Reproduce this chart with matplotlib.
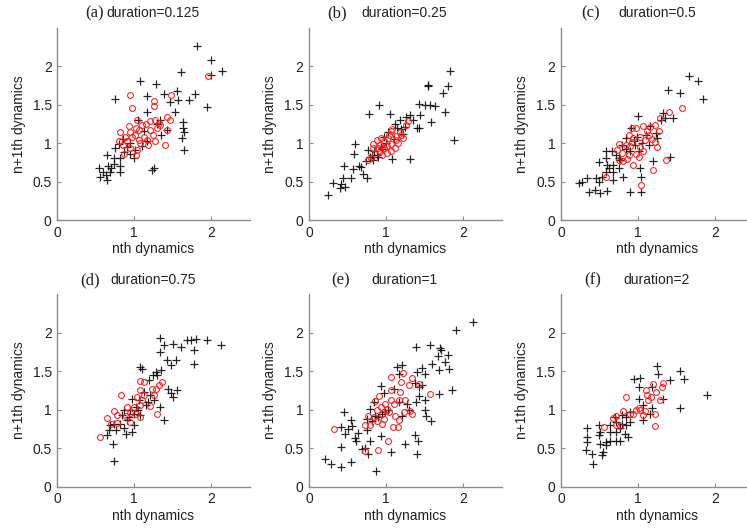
import matplotlib

matplotlib.use("Agg")
import matplotlib.pyplot as plt

# ---- data (nth vs n+1th dynamics) ----
a_plus_x = [1.82, 2.00, 2.14, 1.99, 1.61, 1.07, 1.28, 0.75, 1.16, 1.39, 1.55, 1.46, 1.57, 1.71, 1.79, 1.94,
            1.16, 1.53, 1.34, 1.63, 1.63, 1.65, 1.62, 1.65, 1.35, 1.43, 1.16, 1.10, 0.87, 0.80, 0.85, 0.65,
            0.73, 0.66, 0.54, 0.55, 0.65, 0.69, 0.82, 0.82, 0.74, 0.82, 1.23, 1.26, 0.95, 1.01, 0.63, 0.75,
            1.05, 1.30, 1.00, 0.70, 0.60, 0.90, 0.95, 1.12]
a_plus_y = [2.26, 2.08, 1.94, 1.88, 1.92, 1.81, 1.76, 1.57, 1.61, 1.64, 1.68, 1.53, 1.56, 1.56, 1.64, 1.47,
            1.40, 1.40, 1.30, 1.27, 1.19, 1.14, 1.06, 0.91, 1.11, 1.17, 1.02, 0.96, 0.88, 0.99, 1.05, 0.84,
            0.73, 0.70, 0.67, 0.56, 0.52, 0.63, 0.70, 0.63, 0.80, 0.80, 0.65, 0.68, 0.86, 0.91, 0.58, 0.93,
            1.30, 1.25, 0.80, 0.68, 0.62, 0.95, 1.00, 1.15]
a_circ_x = [1.96, 0.94, 0.97, 1.25, 1.48, 1.25, 1.27, 1.42, 1.46, 1.03, 1.15, 0.81, 1.02, 1.06, 1.20, 1.29,
            1.34, 1.43, 0.97, 1.01, 1.12, 1.24, 1.17, 1.27, 1.40, 0.90, 0.85, 0.94, 0.87, 1.02, 1.06, 1.10,
            0.95, 1.21, 1.32, 0.80, 0.93, 1.08, 1.18, 0.88, 1.03]
a_circ_y = [1.87, 1.63, 1.46, 1.55, 1.62, 1.48, 1.30, 1.34, 1.30, 1.30, 1.25, 1.14, 1.20, 1.17, 1.17, 1.20,
            1.23, 1.17, 1.08, 1.10, 1.08, 1.11, 1.04, 1.02, 0.98, 1.02, 0.97, 0.93, 0.86, 0.84, 1.04, 1.23,
            1.14, 1.29, 1.26, 1.02, 1.22, 1.00, 0.98, 1.08, 0.91]

b_plus_x = [1.83, 1.54, 1.81, 1.74, 0.91, 0.78, 1.05, 1.43, 1.50, 1.63, 1.76, 1.58, 1.31, 1.26, 1.18, 1.11,
            1.44, 1.40, 1.43, 1.88, 1.31, 1.08, 0.60, 0.59, 0.77, 0.74, 0.46, 0.57, 0.68, 0.70, 0.75, 0.55,
            0.44, 0.42, 0.31, 0.24, 0.40, 0.47, 0.88, 0.94, 0.98, 1.22, 1.14, 1.03, 0.83, 0.79, 1.24, 1.57,
            1.55, 0.85, 0.65, 0.82, 0.95, 1.00, 1.10, 0.90, 1.35, 1.20]
b_plus_y = [1.93, 1.75, 1.74, 1.65, 1.49, 1.38, 1.38, 1.51, 1.50, 1.48, 1.40, 1.27, 1.36, 1.34, 1.30, 1.25,
            1.36, 1.19, 1.19, 1.04, 0.79, 0.79, 0.99, 0.86, 0.91, 0.77, 0.70, 0.66, 0.69, 0.60, 0.55, 0.55,
            0.54, 0.47, 0.48, 0.32, 0.41, 0.43, 0.84, 0.95, 1.08, 1.12, 1.19, 1.14, 0.78, 0.82, 1.21, 1.50,
            1.74, 0.90, 0.70, 0.85, 0.92, 1.00, 1.05, 0.82, 1.30, 1.18]
b_circ_x = [1.29, 1.26, 1.07, 1.18, 1.22, 1.13, 0.83, 0.88, 0.92, 0.97, 1.03, 1.06, 0.98, 0.92, 0.86, 0.81,
            0.77, 1.01, 0.95, 1.11, 1.07, 1.16, 0.83, 0.89, 1.04, 0.94, 1.13, 1.20, 1.01, 1.08]
b_circ_y = [1.28, 1.23, 1.16, 1.14, 1.07, 1.09, 0.99, 1.04, 0.97, 1.02, 1.06, 0.99, 0.93, 0.89, 0.86, 0.81,
            0.78, 0.87, 0.84, 0.93, 0.89, 1.00, 0.93, 0.94, 1.10, 1.07, 1.04, 1.11, 0.96, 1.18]

c_plus_x = [1.66, 1.78, 1.39, 1.54, 1.84, 1.32, 1.46, 1.35, 1.00, 0.91, 1.16, 1.30, 0.99, 1.10, 1.23, 1.25,
            0.84, 0.79, 0.96, 0.90, 0.66, 0.58, 0.71, 0.77, 0.49, 0.60, 0.62, 0.75, 0.68, 0.58, 0.53, 0.80,
            0.46, 0.68, 0.27, 0.23, 0.34, 0.50, 0.36, 0.44, 0.51, 0.60, 0.90, 1.04, 1.04, 1.03, 1.19, 1.42,
            0.58, 0.68, 1.01, 1.14, 0.85, 0.95, 1.05, 0.75]
c_plus_y = [1.87, 1.81, 1.69, 1.65, 1.57, 1.39, 1.32, 1.32, 1.35, 1.20, 1.22, 1.30, 1.08, 1.10, 1.13, 1.07,
            1.06, 0.97, 0.97, 0.89, 0.89, 0.90, 0.84, 0.78, 0.75, 0.71, 0.67, 0.67, 0.62, 0.62, 0.56, 0.56,
            0.54, 0.52, 0.50, 0.48, 0.54, 0.50, 0.37, 0.39, 0.35, 0.38, 0.37, 0.37, 0.56, 0.67, 0.76, 0.82,
            0.80, 0.71, 0.90, 0.97, 0.92, 1.02, 1.00, 0.80]
c_circ_x = [1.57, 1.40, 1.29, 0.92, 0.97, 1.07, 1.16, 1.22, 1.12, 0.88, 0.94, 1.03, 1.09, 1.18, 1.25, 1.22,
            0.75, 0.84, 0.90, 1.03, 0.73, 0.79, 0.88, 0.97, 1.07, 0.75, 0.81, 0.86, 0.94, 1.36, 1.19, 1.04,
            0.58, 1.01, 1.14, 1.27, 0.92]
c_circ_y = [1.45, 1.40, 1.32, 1.20, 1.20, 1.22, 1.21, 1.24, 1.15, 1.10, 1.06, 1.08, 1.04, 1.05, 0.95, 1.01,
            0.99, 0.98, 0.96, 0.95, 0.91, 0.87, 0.85, 0.86, 0.89, 0.78, 0.76, 0.79, 0.71, 0.78, 0.65, 0.45,
            0.56, 0.82, 1.10, 1.15, 1.01]

d_plus_x = [1.34, 1.50, 1.61, 1.69, 1.74, 1.80, 1.95, 2.13, 1.77, 1.78, 1.39, 1.34, 1.43, 1.54, 1.48, 1.08,
            1.10, 1.35, 1.28, 1.24, 1.30, 1.19, 1.44, 1.48, 1.55, 1.50, 1.13, 1.21, 1.26, 1.15, 0.97, 1.02,
            0.95, 0.86, 0.84, 0.90, 0.82, 0.73, 0.69, 0.67, 0.76, 0.86, 0.99, 0.89, 0.97, 1.39, 0.64, 0.72,
            0.73, 1.08, 1.06, 1.34, 0.93, 1.00, 1.05, 1.18]
d_plus_y = [1.93, 1.85, 1.81, 1.90, 1.90, 1.92, 1.90, 1.84, 1.77, 1.60, 1.84, 1.75, 1.65, 1.64, 1.58, 1.56,
            1.53, 1.52, 1.49, 1.45, 1.45, 1.38, 1.27, 1.22, 1.25, 1.17, 1.23, 1.19, 1.12, 1.06, 1.14, 1.04,
            0.99, 0.99, 0.93, 0.86, 0.82, 0.82, 0.80, 0.73, 0.73, 0.76, 0.80, 0.69, 0.71, 0.86, 0.67, 0.56,
            0.33, 0.93, 1.12, 1.04, 0.91, 0.95, 1.00, 1.10]
d_circ_x = [1.36, 1.32, 1.28, 1.08, 1.13, 1.08, 1.23, 1.25, 0.83, 1.04, 1.13, 1.20, 1.30, 0.99, 0.95, 1.02,
            1.08, 1.07, 0.74, 0.78, 0.89, 0.64, 0.95, 0.70, 0.77, 0.55, 0.91, 1.10]
d_circ_y = [1.36, 1.32, 1.27, 1.37, 1.36, 1.25, 1.27, 1.19, 1.19, 1.16, 1.19, 1.05, 0.94, 1.04, 0.96, 0.95,
            0.91, 1.06, 0.98, 0.93, 0.92, 0.89, 0.84, 0.81, 0.83, 0.64, 1.03, 1.12]

e_plus_x = [2.13, 1.91, 1.39, 1.57, 1.70, 1.71, 1.80, 1.68, 1.76, 1.82, 1.69, 1.60, 1.47, 1.51, 1.40, 1.21,
            1.14, 1.17, 1.38, 1.43, 1.47, 1.69, 1.86, 0.93, 1.10, 1.43, 1.51, 1.39, 1.51, 1.52, 1.17, 1.27,
            0.97, 0.84, 0.79, 0.86, 0.75, 0.99, 0.45, 0.55, 0.51, 0.42, 0.56, 0.64, 0.75, 0.47, 0.60, 0.42,
            0.61, 0.79, 0.93, 0.73, 0.69, 0.76, 1.06, 1.24, 1.38, 1.42, 1.40, 0.21, 0.28, 0.42, 0.55, 0.87,
            1.59, 1.21, 1.30, 0.90, 0.95, 1.02, 0.82]
e_plus_y = [2.14, 2.04, 1.81, 1.84, 1.80, 1.77, 1.71, 1.70, 1.62, 1.53, 1.51, 1.59, 1.54, 1.46, 1.49, 1.58,
            1.55, 1.46, 1.35, 1.29, 1.32, 1.21, 1.26, 1.31, 1.27, 1.18, 1.12, 1.10, 0.99, 0.92, 1.10, 1.08,
            1.22, 1.10, 1.01, 0.92, 0.88, 0.97, 0.97, 0.86, 0.75, 0.77, 0.79, 0.70, 0.73, 0.68, 0.63, 0.51,
            0.60, 0.60, 0.66, 0.50, 0.49, 0.43, 0.45, 0.56, 0.67, 0.60, 0.43, 0.36, 0.30, 0.25, 0.32, 0.21,
            0.85, 0.92, 0.99, 0.90, 0.95, 1.00, 0.85]
e_circ_x = [1.22, 1.34, 1.06, 1.43, 1.30, 1.07, 1.18, 1.57, 0.91, 1.25, 1.17, 0.86, 0.99, 1.10, 0.93, 1.01,
            0.88, 0.95, 1.04, 0.77, 0.84, 1.23, 1.31, 1.34, 1.17, 0.73, 0.79, 0.95, 1.09, 1.16, 0.33, 1.03,
            0.90, 0.73, 0.97, 1.12, 0.88, 1.06, 1.19]
e_circ_y = [1.48, 1.41, 1.42, 1.33, 1.32, 1.26, 1.23, 1.21, 1.18, 1.13, 1.13, 1.11, 1.08, 1.08, 1.03, 1.01,
            0.99, 0.95, 0.97, 0.92, 0.90, 0.97, 0.98, 0.95, 0.86, 0.80, 0.80, 0.82, 0.77, 0.77, 0.75, 0.60,
            0.48, 0.46, 0.88, 0.92, 0.85, 1.12, 1.36]

f_plus_x = [1.25, 1.26, 0.95, 1.02, 1.55, 1.60, 1.41, 1.01, 1.18, 1.89, 1.01, 1.33, 1.55, 1.07, 1.18, 1.16,
            1.07, 0.90, 0.85, 0.79, 0.70, 0.72, 0.79, 0.64, 0.90, 0.85, 0.34, 0.49, 0.51, 0.63, 0.77, 0.34,
            0.34, 0.49, 0.51, 0.59, 0.64, 0.72, 0.77, 0.83, 0.87, 0.33, 0.40, 0.55, 0.53, 0.42, 0.59, 0.72]
f_plus_y = [1.57, 1.46, 1.40, 1.41, 1.50, 1.40, 1.39, 1.30, 1.30, 1.19, 1.14, 1.14, 1.02, 1.06, 1.02, 0.95,
            0.86, 0.97, 0.91, 0.93, 0.91, 0.84, 0.82, 0.80, 0.84, 0.80, 0.76, 0.80, 0.71, 0.71, 0.76, 0.65,
            0.58, 0.67, 0.56, 0.58, 0.60, 0.60, 0.59, 0.69, 0.65, 0.48, 0.43, 0.45, 0.41, 0.30, 0.54, 0.71]
f_circ_x = [1.33, 1.31, 1.20, 1.11, 1.23, 1.12, 1.17, 1.28, 1.13, 0.84, 1.01, 0.97, 1.03, 1.09, 0.94, 1.06,
            1.22, 0.81, 0.71, 0.67, 0.72, 0.77, 0.56, 1.22, 0.90]
f_circ_y = [1.35, 1.30, 1.34, 1.25, 1.23, 1.19, 1.17, 1.13, 1.12, 1.17, 1.02, 0.99, 0.99, 0.98, 0.95, 0.93,
            0.94, 0.98, 0.92, 0.89, 0.80, 0.79, 0.77, 0.79, 0.95]

panels = [
    ("(a)", "duration=0.125", a_plus_x, a_plus_y, a_circ_x, a_circ_y, 0.24, 0.255),
    ("(b)", "duration=0.25", b_plus_x, b_plus_y, b_circ_x, b_circ_y, 0.196, 0.274),
    ("(c)", "duration=0.5", c_plus_x, c_plus_y, c_circ_x, c_circ_y, 0.203, 0.296),
    ("(d)", "duration=0.75", d_plus_x, d_plus_y, d_circ_x, d_circ_y, 0.222, 0.274),
    ("(e)", "duration=1", e_plus_x, e_plus_y, e_circ_x, e_circ_y, 0.213, 0.326),
    ("(f)", "duration=2", f_plus_x, f_plus_y, f_circ_x, f_circ_y, 0.211, 0.322),
]

plt.rcParams["font.family"] = ["Liberation Sans", "DejaVu Sans"]

fig = plt.figure(figsize=(7.47, 5.28), dpi=100)
lefts = [0.0767, 0.4137, 0.751]
bottoms = [0.5833, 0.0782]
w, h = 0.2577, 0.3646

for i, (tag, dur, px, py, cx, cy, tag_x, dur_x) in enumerate(panels):
    ax = fig.add_axes([lefts[i % 3], bottoms[i // 3], w, h])
    ax.plot(px, py, "+", color="black", ms=5.5, mew=0.9, alpha=0.85)
    ax.plot(cx, cy, "o", mfc="none", mec="#ff1a1a", ms=4.2, mew=0.75)
    ax.set_xlim(0, 2.5)
    ax.set_ylim(0, 2.5)
    ax.set_xticks([0, 1, 2])
    ax.set_xticklabels(["0", "1", "2"])
    ax.set_yticks([0, 0.5, 1, 1.5, 2])
    ax.set_yticklabels(["0", "0.5", "1", "1.5", "2"])
    for s in ("top", "right"):
        ax.spines[s].set_visible(False)
    for s in ("left", "bottom"):
        ax.spines[s].set_color("#8c8c8c")
        ax.spines[s].set_linewidth(1.0)
    ax.tick_params(direction="in", length=3, color="#8c8c8c", labelsize=10,
                   labelcolor="#222222", pad=4)
    ax.set_xlabel("nth dynamics", fontsize=10, color="#222222", labelpad=2)
    ax.set_ylabel("n+1th dynamics", fontsize=10, color="#222222", labelpad=5)
    # mixed-font panel title: serif tag, sans description
    ax.text(tag_x, 1.073, tag, transform=ax.transAxes, ha="right", va="center",
            fontsize=12, family=["Liberation Serif", "DejaVu Serif"], color="#222222")
    ax.text(dur_x, 1.073, dur, transform=ax.transAxes, ha="left", va="center",
            fontsize=10, color="#222222")

fig.savefig("out.png", dpi=100)
